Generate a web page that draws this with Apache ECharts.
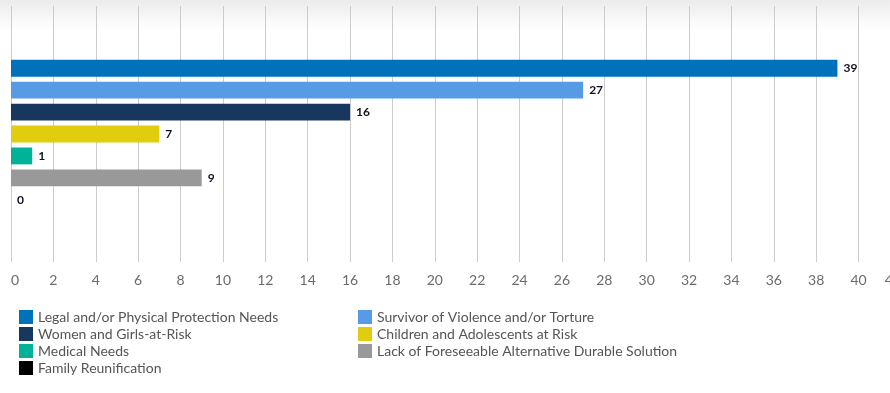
<!DOCTYPE html>
<html>
<head>
<meta charset="utf-8">
<style>html,body{margin:0;padding:0;background:#fff}#c{width:890px;height:393px}</style>
<script src="https://cdn.jsdelivr.net/npm/echarts@6/dist/echarts.min.js"></script>
</head>
<body>
<div id="c"></div>
<script>
const categories = ['Specific needs'];
const seriesNames = [
  'Legal and/or Physical Protection Needs',
  'Survivor of Violence and/or Torture',
  'Women and Girls-at-Risk',
  'Children and Adolescents at Risk',
  'Medical Needs',
  'Lack of Foreseeable Alternative Durable Solution',
  'Family Reunification'
];
const seriesValues = [39, 27, 16, 7, 1, 9, 0];
const seriesColors = ['#0072BC', '#589BE5', '#18375F', '#E1CC0D', '#00B398', '#999999', '#000000'];
const xTicks = [0, 42, 2];

const chart = echarts.init(document.getElementById('c'), null, {renderer: 'canvas'});
const FONT = 'Lato, "Open Sans", sans-serif';
const legendCommon = {
  orient: 'vertical', itemWidth: 14, itemHeight: 14, itemGap: 3,
  icon: 'rect', padding: 0,
  textStyle: {fontFamily: FONT, fontSize: 14, color: '#555', padding: [0, 0, 0, 0]},
  selectedMode: false
};
chart.setOption({
  animation: false,
  graphic: [{
    type: 'rect', left: 0, top: 0, z: -10,
    shape: {width: 890, height: 30},
    style: {fill: new echarts.graphic.LinearGradient(0, 0, 0, 1, [
      {offset: 0, color: '#ececec'}, {offset: 1, color: '#ffffff'}
    ])}
  }],
  grid: {left: 11, width: 890, top: 6, bottom: 131, containLabel: false, outerBoundsMode: 'none'},
  legend: [
    Object.assign({left: 19, top: 310, data: [seriesNames[0], seriesNames[2], seriesNames[4], seriesNames[6]]}, legendCommon),
    Object.assign({left: 358, top: 310, data: [seriesNames[1], seriesNames[3], seriesNames[5]]}, legendCommon)
  ],
  xAxis: {
    type: 'value', min: xTicks[0], max: xTicks[1], interval: xTicks[2],
    axisLine: {show: false}, axisTick: {show: false},
    splitLine: {show: true, lineStyle: {color: '#cccccc', width: 1}},
    axisLabel: {fontFamily: FONT, fontSize: 14, color: '#6b6b6b', margin: 11,
      showMaxLabel: true, alignMinLabel: 'left', alignMaxLabel: 'right'}
  },
  yAxis: {
    type: 'category', data: categories, inverse: true,
    axisLine: {show: false}, axisTick: {show: false}, axisLabel: {show: false}
  },
  series: seriesNames.map((n, i) => ({
    name: n, type: 'bar', data: [seriesValues[i]],
    itemStyle: {color: seriesColors[i]},
    barGap: '30%', barCategoryGap: '42%',
    label: {show: true, position: 'right', distance: 6, fontFamily: FONT, fontSize: 12, fontWeight: 'bold', color: '#111122'}
  }))
});
</script>
</body>
</html>
